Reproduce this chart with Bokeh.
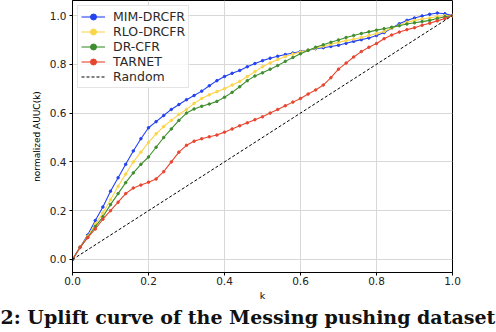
from bokeh.plotting import figure
from bokeh.models import Range1d, FixedTicker, Legend, Title
from bokeh.embed import file_html
from bokeh.resources import INLINE

k = [0.00, 0.02, 0.04, 0.06, 0.08, 0.10, 0.12, 0.14, 0.16, 0.18,
     0.20, 0.22, 0.24, 0.26, 0.28, 0.30, 0.32, 0.34, 0.36, 0.38,
     0.40, 0.42, 0.44, 0.46, 0.48, 0.50, 0.52, 0.54, 0.56, 0.58,
     0.60, 0.62, 0.64, 0.66, 0.68, 0.70, 0.72, 0.74, 0.76, 0.78,
     0.80, 0.82, 0.84, 0.86, 0.88, 0.90, 0.92, 0.94, 0.96, 0.98, 1.00]

mim_drcfr = [0.000, 0.050, 0.100, 0.160, 0.215, 0.280, 0.335, 0.390, 0.445, 0.495,
             0.540, 0.565, 0.590, 0.615, 0.635, 0.655, 0.672, 0.690, 0.712, 0.733,
             0.750, 0.763, 0.775, 0.790, 0.803, 0.815, 0.825, 0.833, 0.840, 0.846,
             0.852, 0.858, 0.864, 0.868, 0.873, 0.878, 0.886, 0.894, 0.901, 0.908,
             0.918, 0.930, 0.948, 0.966, 0.980, 0.990, 0.998, 1.005, 1.010, 1.007, 1.000]

rlo_drcfr = [0.000, 0.050, 0.095, 0.145, 0.190, 0.245, 0.300, 0.350, 0.400, 0.440,
             0.480, 0.515, 0.545, 0.570, 0.595, 0.615, 0.640, 0.660, 0.675, 0.688,
             0.700, 0.715, 0.730, 0.750, 0.770, 0.790, 0.805, 0.820, 0.832, 0.842,
             0.850, 0.858, 0.866, 0.874, 0.882, 0.890, 0.897, 0.903, 0.910, 0.918,
             0.926, 0.935, 0.948, 0.960, 0.972, 0.980, 0.986, 0.990, 0.996, 0.999, 1.000]

dr_cfr = [0.000, 0.050, 0.090, 0.135, 0.175, 0.225, 0.270, 0.315, 0.355, 0.390,
          0.420, 0.460, 0.500, 0.535, 0.570, 0.600, 0.617, 0.628, 0.637, 0.648,
          0.665, 0.685, 0.708, 0.733, 0.752, 0.765, 0.780, 0.795, 0.812, 0.828,
          0.843, 0.857, 0.870, 0.880, 0.890, 0.900, 0.910, 0.918, 0.926, 0.933,
          0.940, 0.946, 0.952, 0.958, 0.965, 0.970, 0.975, 0.980, 0.988, 0.995, 1.000]

tarnet = [0.000, 0.050, 0.090, 0.125, 0.165, 0.200, 0.235, 0.270, 0.293, 0.305,
          0.317, 0.330, 0.360, 0.400, 0.440, 0.468, 0.485, 0.495, 0.503, 0.510,
          0.522, 0.535, 0.548, 0.560, 0.573, 0.585, 0.600, 0.615, 0.630, 0.645,
          0.660, 0.678, 0.695, 0.715, 0.745, 0.780, 0.805, 0.830, 0.852, 0.870,
          0.885, 0.905, 0.920, 0.932, 0.942, 0.950, 0.960, 0.968, 0.978, 0.988, 1.000]

random_k = [0.0, 1.0]
random_v = [0.0, 1.0]

series = [
    ("MIM-DRCFR", mim_drcfr, "#2342f0"),
    ("RLO-DRCFR", rlo_drcfr, "#fbd54a"),
    ("DR-CFR", dr_cfr, "#3e8e2e"),
    ("TARNET", tarnet, "#e8452f"),
]

x_ticks = [0.0, 0.2, 0.4, 0.6, 0.8, 1.0]
y_ticks = [0.0, 0.2, 0.4, 0.6, 0.8, 1.0]

caption_text = "2: Uplift curve of the Messing pushing dataset"

p = figure(width=496, height=332, output_backend="svg", toolbar_location=None,
           x_range=Range1d(0.0, 1.0), y_range=Range1d(-0.0533, 1.0615),
           min_border_left=72, min_border_right=44, min_border_top=0,
           min_border_bottom=60)

legend_items = []
for name, vals, color in series:
    r1 = p.line(k, vals, line_color=color, line_width=1.1)
    r2 = p.scatter(k, vals, size=2.5, marker="circle", fill_color=color,
                   line_color=color)
    legend_items.append((name, [r1, r2]))

rl = p.line(random_k, random_v, line_color="black", line_width=1,
            line_dash="3 2")
legend_items.append(("Random", [rl]))

legend = Legend(items=legend_items, location="top_left")
legend.margin = 5
legend.padding = 3
legend.spacing = 0
legend.glyph_width = 24
legend.glyph_height = 15
legend.label_height = 15
legend.label_standoff = 8
legend.label_text_font = "DejaVu Sans"
legend.label_text_font_size = "12.5px"
legend.label_text_color = "#2a2a2a"
legend.border_line_color = "#cccccc"
legend.border_line_width = 1
legend.background_fill_alpha = 0.85
p.add_layout(legend)

p.xaxis.ticker = FixedTicker(ticks=x_ticks)
p.yaxis.ticker = FixedTicker(ticks=y_ticks)
p.xaxis.major_label_overrides = {0.0: "0.0", 1.0: "1.0"}
p.yaxis.major_label_overrides = {0.0: "0.0", 1.0: "1.0"}
for ax in (p.xaxis, p.yaxis):
    ax.minor_tick_line_color = None
    ax.major_tick_out = 3
    ax.major_tick_in = 0
    ax.major_label_text_font = "DejaVu Sans"
    ax.major_label_text_font_size = "10.5px"
    ax.major_label_text_color = "#222222"
    ax.axis_label_text_font = "DejaVu Sans"
    ax.axis_label_text_font_style = "normal"
    ax.axis_label_text_color = "black"
    ax.axis_line_color = "black"
    ax.major_label_standoff = 3

p.xaxis.major_label_standoff = 1
p.xaxis.axis_label = "k"
p.xaxis.axis_label_text_font_size = "9.5px"
p.xaxis.axis_label_standoff = 2
p.yaxis.axis_label = "normalized AUUC(k)"
p.yaxis.axis_label_text_font_size = "9px"
p.yaxis.axis_label_standoff = 5

p.grid.grid_line_color = "#d8d8d8"
p.grid.grid_line_width = 1
p.outline_line_color = "black"
p.outline_line_width = 1
p.background_fill_color = "white"
p.border_fill_color = "white"

caption = Title(text=caption_text, align="left", offset=-72, standoff=0,
                text_font="DejaVu Serif", text_font_style="bold",
                text_font_size="19px", text_color="#111111")
p.add_layout(caption, "below")

open("out.html", "w").write(file_html(p, INLINE))
